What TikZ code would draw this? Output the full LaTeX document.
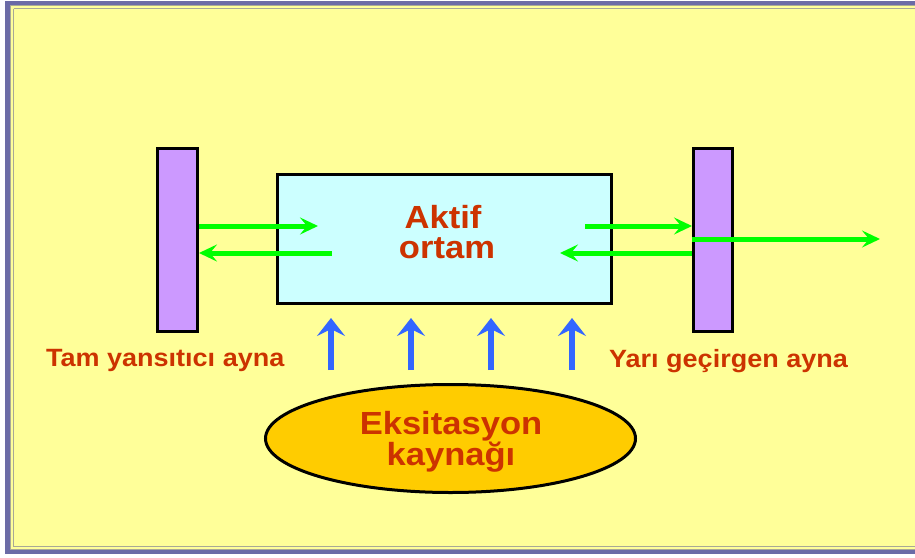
\documentclass[tikz,border=0pt]{standalone}
\usepackage{fontspec}
\setmainfont{Liberation Sans}[FakeStretch=1.08]
\usetikzlibrary{arrows.meta,shapes.geometric}
\definecolor{bgyellow}{HTML}{FFFF99}
\definecolor{framepurple}{HTML}{6B6BA6}
\definecolor{framegrey}{HTML}{A9A996}
\definecolor{mirrorfill}{HTML}{CC99FF}
\definecolor{boxfill}{HTML}{CCFFFF}
\definecolor{ellfill}{HTML}{FFCC00}
\definecolor{txtred}{HTML}{CC3300}
\definecolor{beamgreen}{HTML}{00FF00}
\definecolor{pumpblue}{HTML}{3366FF}
\tikzset{
  mirror/.style={draw=black, line width=3pt, fill=mirrorfill, rectangle, inner sep=0pt,
                 minimum width=40pt, minimum height=183pt},
  medium/.style={draw=black, line width=3pt, fill=boxfill, rectangle, inner sep=0pt,
                 minimum width=334pt, minimum height=129pt},
  source/.style={draw=black, line width=3pt, fill=ellfill, ellipse, inner sep=0pt,
                 minimum width=370pt, minimum height=108pt},
  bigtxt/.style={text=txtred, font=\fontsize{32}{32}\selectfont\bfseries, inner sep=0pt, anchor=base},
  srctxt/.style={text=txtred, font=\fontsize{32}{32}\selectfont\bfseries, inner sep=0pt, anchor=base},
  lbltxt/.style={text=txtred, font=\fontsize{25}{25}\selectfont\bfseries, inner sep=0pt, anchor=base west},
  beam/.style={draw=beamgreen, line width=5pt, -{Stealth[length=18pt,width=17pt,inset=7pt]}},
  pump/.style={draw=pumpblue, line width=6pt, -{Stealth[length=18pt,width=28pt,inset=7pt]}}
}
\begin{document}
\begin{tikzpicture}[x=1pt,y=-1pt]
\useasboundingbox (0,0) rectangle (915,557);
% frame
\fill[white] (0,0) rectangle (915,557);
\fill[framepurple] (5,1) rectangle (915,554);
\fill[framegrey] (10,5) rectangle (915,550);
\fill[bgyellow] (11,6) rectangle (915,549);
\draw[framegrey, line width=1pt] (13.5,8.5) -- (915,8.5);
\draw[framegrey, line width=1pt] (13.5,8.5) -- (13.5,546.5) -- (915,546.5);

% nodes
\node[mirror] (lm) at (177.5,240) {};
\node[mirror, minimum width=39pt] (rm) at (713,240) {};
\node[medium] (box) at (444.5,239) {};
\node[source] (src) at (450.5,438.5) {};

% texts
\node[bigtxt] (t1) at (443,228) {Aktif};
\node[bigtxt] (t2) at (447,258) {ortam};
\node[srctxt] (s1) at (451,434) {Eksitasyon};
\node[srctxt] (s2) at (451,465) {kaynağı};
\node[lbltxt] (lt) at (46,366) {Tam yansıtıcı ayna};
\node[lbltxt] (rt) at (609,367) {Yarı geçirgen ayna};

% green beams
\coordinate (g1e) at (318,226);
\coordinate (g2s) at (332,253);
\coordinate (g3s) at (585,226);
\coordinate (g4e) at (560,253);
\coordinate (g5e) at (880,239);
\draw[beam] (lm.east |- g1e) -- (g1e);
\draw[beam] (g2s) -- (lm.east |- g2s);
\draw[beam] (g3s) -- (rm.west |- g3s);
\draw[beam] (rm.west |- g4e) -- (g4e);
\draw[beam] (rm.west |- g5e) -- (g5e);

% blue pump arrows
\foreach \i/\x in {1/331,2/411,3/491,4/572}{
  \coordinate (p\i s) at (\x,370);
  \coordinate (p\i e) at (\x,318);
  \draw[pump] (p\i s) -- (p\i e);
}
\end{tikzpicture}
\end{document}
